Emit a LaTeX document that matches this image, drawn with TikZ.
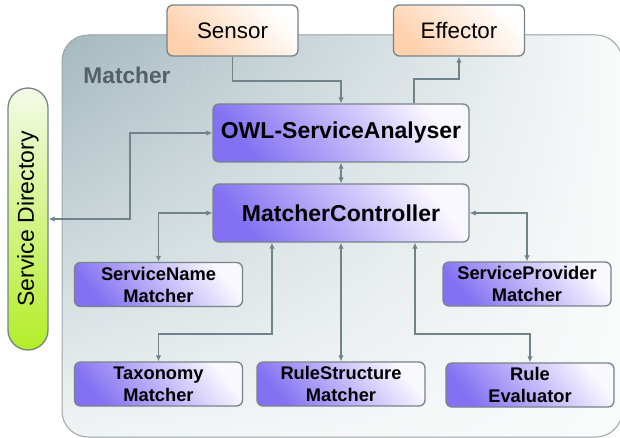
\documentclass[tikz,border=0pt]{standalone}
\usepackage{fontspec}
\setmainfont{Liberation Sans}
\usepackage{graphicx}
\usepackage{tikz}
\usetikzlibrary{arrows.meta,fadings}
\definecolor{linegray}{RGB}{112,130,138}
\definecolor{boxedge}{RGB}{118,132,138}
\definecolor{peach}{RGB}{255,208,172}
\definecolor{lilac}{RGB}{132,112,242}
\definecolor{lilaclight}{RGB}{250,248,255}
\definecolor{lime}{RGB}{178,238,40}
\definecolor{limelight}{RGB}{244,250,232}
\definecolor{matchdark}{RGB}{164,185,191}
\definecolor{matchlight}{RGB}{250,251,251}
\definecolor{labelgray}{RGB}{84,96,102}
\tikzfading[name=fadedown, top color=transparent!100, bottom color=transparent!10]
\tikzset{
	box/.style={draw=boxedge, line width=1.3pt, rounded corners=6pt, inner sep=0pt, align=center},
	ioblock/.style={box, top color=white, bottom color=peach, shading angle=-45,
		minimum width=131pt, minimum height=51pt, font=\fontsize{22.4}{26}\selectfont},
	coreblock/.style={box, top color=lilaclight, bottom color=lilac, shading angle=-50,
		minimum width=256pt, minimum height=58pt, font=\fontsize{23}{27}\selectfont\bfseries},
	subblock/.style={box, top color=lilaclight, bottom color=lilac, shading angle=-50,
		minimum width=168pt, minimum height=44pt, font=\fontsize{18.3}{22}\selectfont\bfseries},
	dirblock/.style={box, rounded corners=20pt, top color=limelight, bottom color=lime,
		minimum width=40pt, minimum height=262pt, font=\fontsize{23}{27}\selectfont},
	grouplabel/.style={text=labelgray, font=\fontsize{22.7}{26}\selectfont\bfseries, inner sep=0pt},
	conn/.style={draw=linegray, line width=1.9pt, -{Latex[length=6pt,width=5.5pt]}},
	biconn/.style={conn, {Latex[length=6pt,width=5.5pt]}-{Latex[length=6pt,width=5.5pt]}}
}

\begin{document}
\begin{tikzpicture}[x=1pt, y=-1pt]
		%%%%% START %%%%%
		\useasboundingbox (0,0) rectangle (620,438);
		
		% matcher component
		\fill[rounded corners=26pt, left color=matchdark, right color=matchlight] (62,35) rectangle (622,437);
		\fill[rounded corners=26pt, matchlight, path fading=fadedown] (62,35) rectangle (622,437);
		\draw[boxedge!70, line width=1pt, rounded corners=26pt] (62,35) rectangle (622,437);
		\node[grouplabel] (mlabel) at (127,75) {Matcher};
		
		\node[ioblock] (sensor) at (232.5,30.5) {Sensor};
		\node[ioblock] (effector) at (459,30.5) {Effector};
		
		\node[coreblock] (owl) at (341,133) {OWL-ServiceAnalyser};
		\node[coreblock] (ctrl) at (341,213) {MatcherController};
		
		\node[dirblock] (sdir) at (28,219) {\rotatebox{90}{Service Directory}};
		
		\node[subblock] (snm) at (158.5,284.5) {ServiceName\\Matcher};
		\node[subblock] (spm) at (527,284) {ServiceProvider\\Matcher};
		\node[subblock] (tax) at (158.5,384) {Taxonomy\\Matcher};
		\node[subblock] (rsm) at (341,384) {RuleStructure\\Matcher};
		\node[subblock] (rev) at (530,385) {Rule\\Evaluator};
		
		% connections
		\coordinate (sdbend) at (130,219);
		\draw[conn] (sensor.south) -- ++(0,24) -| (owl.north);
		\draw[conn] ([xshift=73pt]owl.north) -- ++(0,-24) -| (effector.south);
		\draw[biconn] (owl) -- (ctrl);
		\draw[biconn] (sdir.east |- sdbend) -- (sdbend) |- (owl.west);
		\draw[biconn] (ctrl.west) -| (snm.north);
		\draw[biconn] (ctrl.east) -| (spm.north);
		\draw[biconn] ([xshift=-69pt]ctrl.south) -- ++(0,91) -| (tax.north);
		\draw[biconn] (ctrl) -- (rsm);
		\draw[biconn] ([xshift=74pt]ctrl.south) -- ++(0,91) -| (rev.north);
		%%%%% END %%%%%
\end{tikzpicture}
\end{document}
